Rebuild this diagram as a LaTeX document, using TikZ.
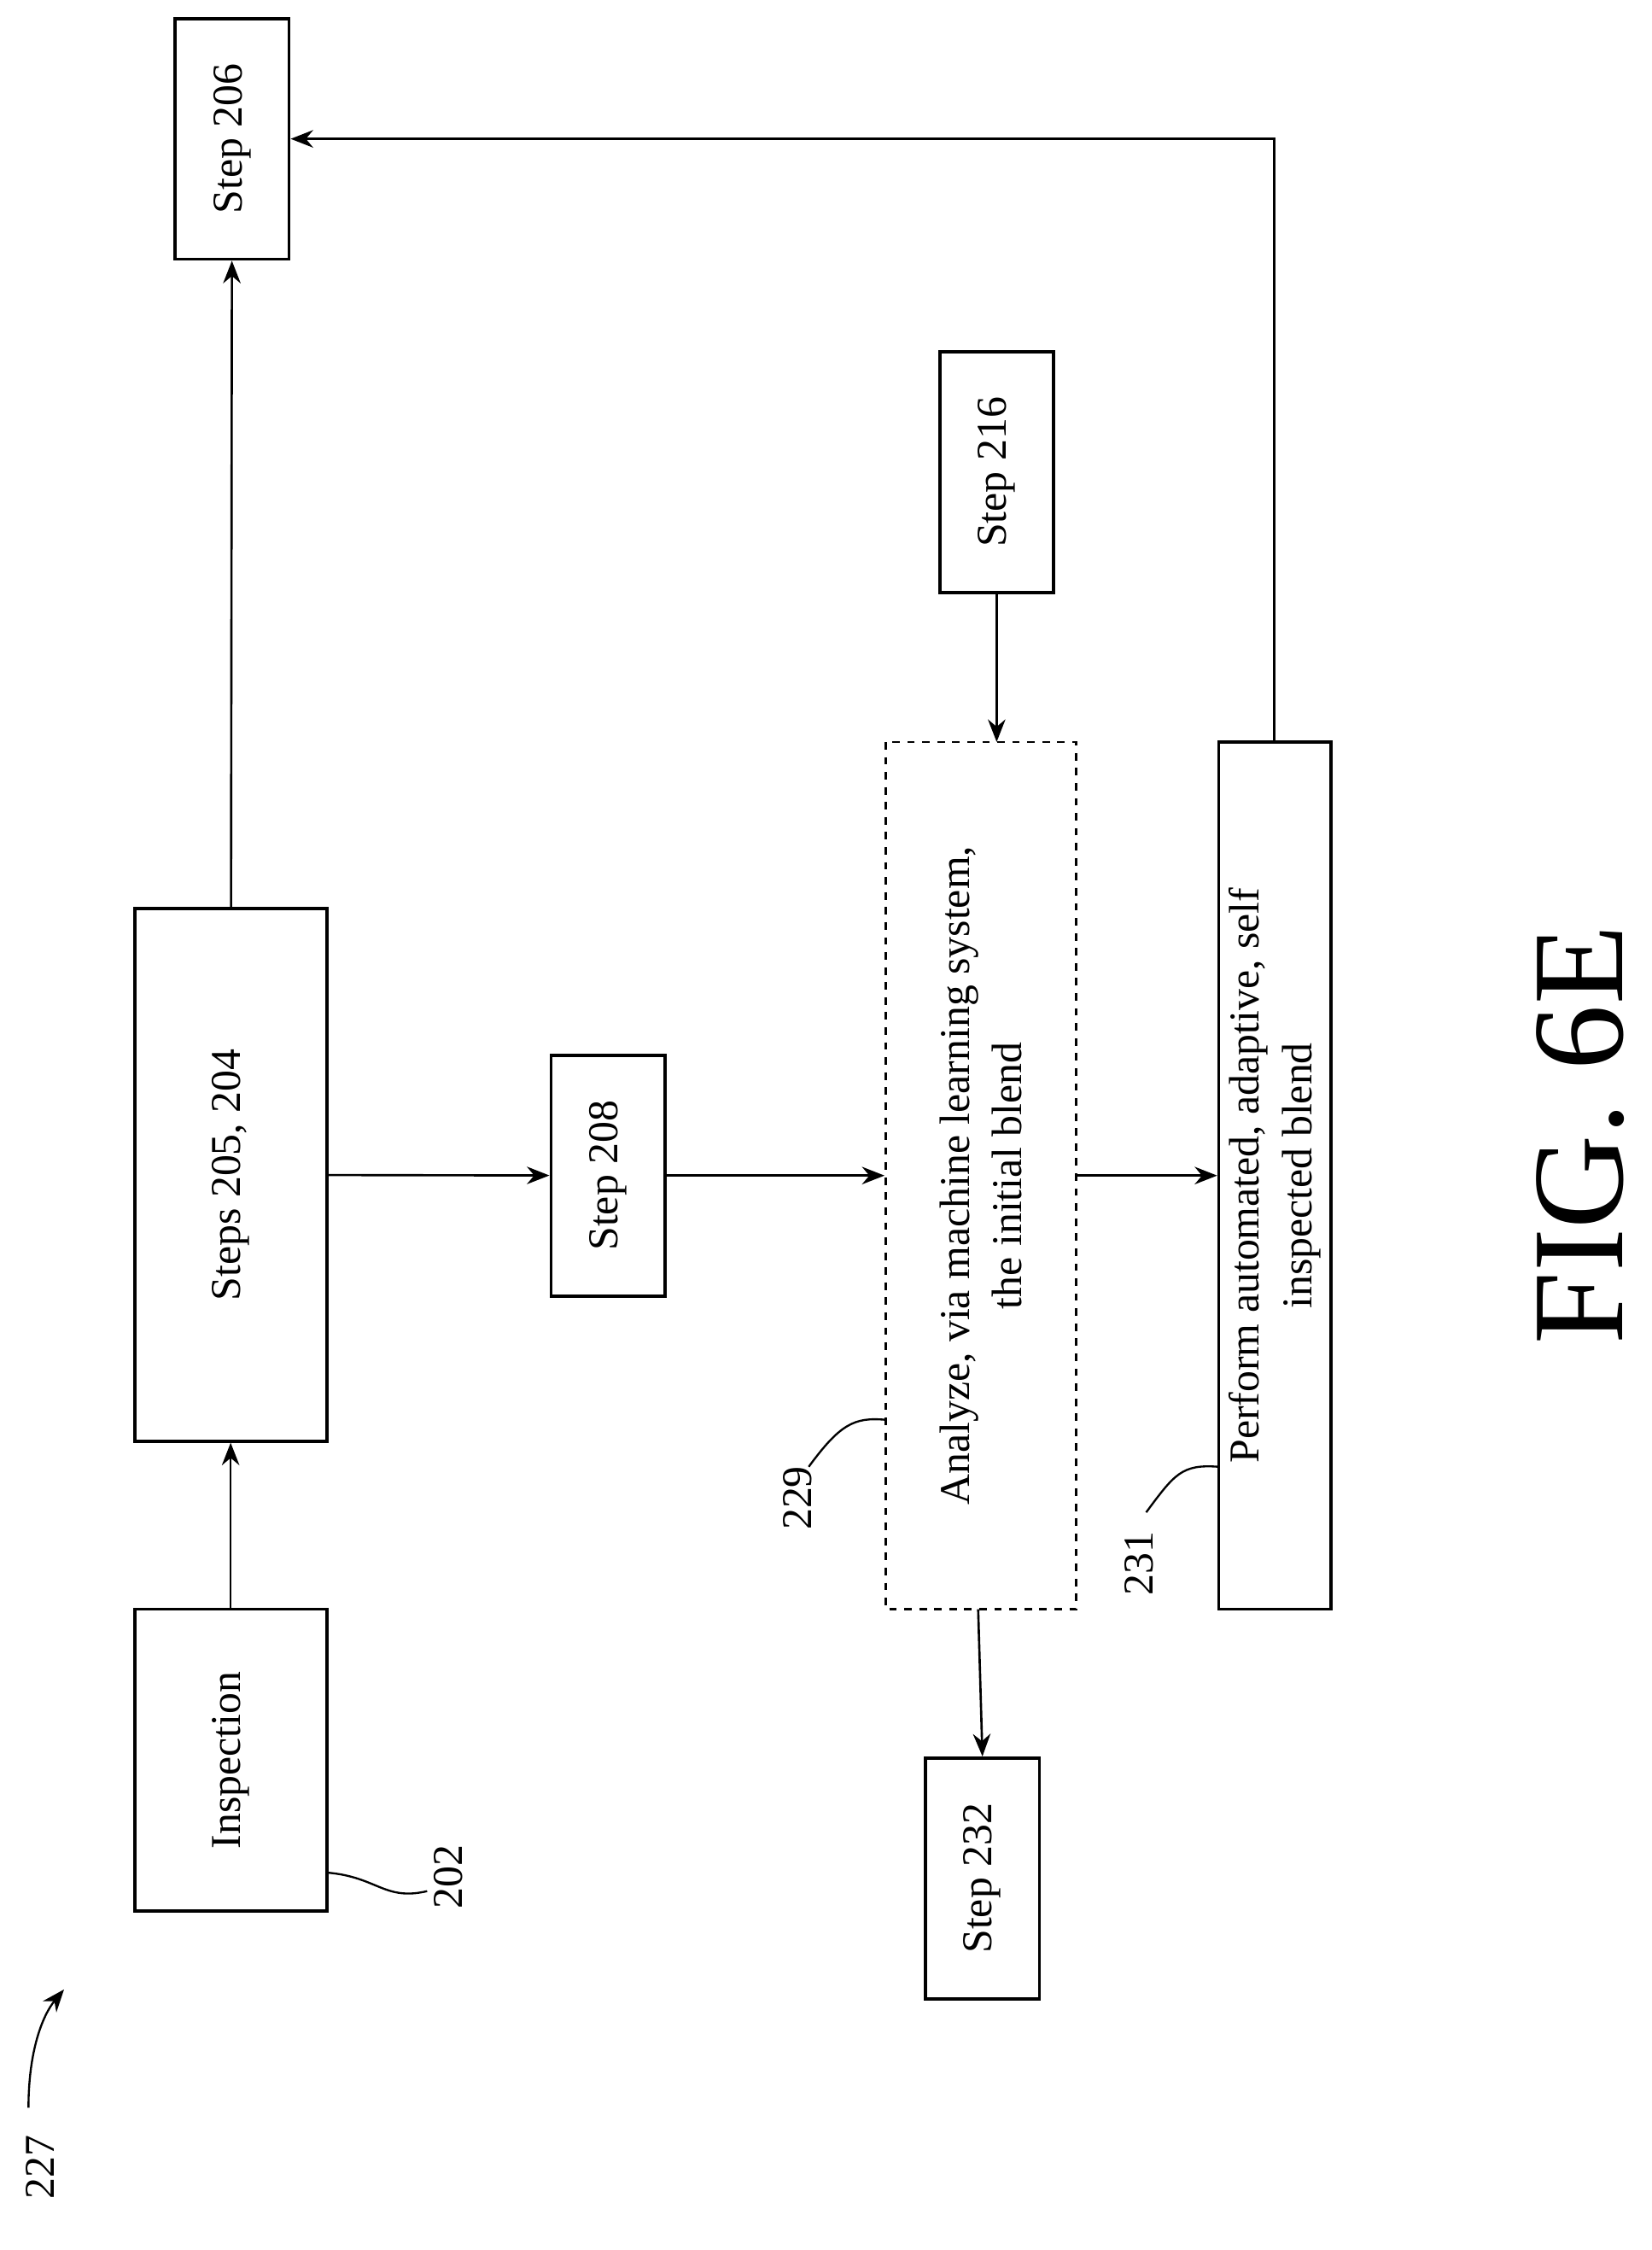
\documentclass[tikz,border=0pt]{standalone}
\usepackage{fontspec}
\setmainfont{Liberation Serif}
\usetikzlibrary{arrows.meta}
\tikzstyle{blk}=[draw,line width=1.3pt,rotate=90,align=center,font=\fontsize{17}{21}\selectfont,inner sep=2pt]
\tikzstyle{dblk}=[blk,dashed,line width=0.9pt]
\tikzstyle{arr}=[line width=0.9pt,-{Stealth[length=9pt,width=7pt]}]
\tikzstyle{lbl}=[rotate=90,font=\fontsize{17}{21}\selectfont]
\begin{document}
\begin{tikzpicture}[x=0.02cm,y=-0.02cm]
        \useasboundingbox (0,0) rectangle (1160,1580);
        \draw (162,1236) node[blk,minimum width=4.24cm,minimum height=2.7cm](insp){Inspection};
        \draw (162,825) node[blk,minimum width=7.48cm,minimum height=2.7cm](s205){Steps 205, 204};
        \draw (163,97.5) node[blk,minimum width=3.38cm,minimum height=1.6cm](s206){Step 206};
        \draw (427,825.5) node[blk,minimum width=3.38cm,minimum height=1.6cm](s208){Step 208};
        \draw (700,331.5) node[blk,minimum width=3.38cm,minimum height=1.6cm](s216){Step 216};
        \draw (690,1319) node[blk,minimum width=3.38cm,minimum height=1.6cm](s232){Step 232};
        \draw (689,825.5) node[dblk,minimum width=12.18cm,minimum height=2.68cm](anl){Analyze, via machine learning system,\\the initial blend};
        \draw (895.5,825.5) node[blk,minimum width=12.18cm,minimum height=1.58cm](perf){Perform automated, adaptive, self\\inspected blend};
        %
        \coordinate (a1) at (700,521);
        \coordinate (a2) at (687,1130);
        \coordinate (p1) at (895,521);
        \coordinate (c1) at (895,97.5);
        %
        \draw[arr] (insp) -- (s205);
        \draw[arr] (s205) -- (s206);
        \draw[arr] (s205) -- (s208);
        \draw[arr] (s208) -- (anl);
        \draw[arr] (anl) -- (perf);
        \draw[arr,{Stealth[length=9pt,width=7pt]}-] (a1) -- (s216.west);
        \draw[arr] (a2) -- (s232.east);
        \draw[arr] (p1) -- (c1) -- (s206.south);
        %
        \node[lbl] (l202) at (315,1318) {202};
        \draw[line width=0.8pt] (230,1315) .. controls (265,1318) and (270,1335) .. (300,1328);
        \node[lbl] (l229) at (560,1052) {229};
        \draw[line width=0.8pt] (622,997) .. controls (600,995) and (590,1000) .. (568,1030);
        \node[lbl] (l231) at (800,1098) {231};
        \draw[line width=0.8pt] (856,1030) .. controls (830,1028) and (825,1035) .. (805,1062);
        \node[lbl] (l227) at (28,1522) {227};
        \draw[line width=0.8pt,-{Stealth[length=9pt,width=7pt]}] (20,1480) .. controls (20,1440) and (30,1415) .. (45,1397);
        \node[rotate=90,font=\fontsize{52}{60}\selectfont] (fig) at (1110,797) {FIG. 6E};
\end{tikzpicture}
\end{document}
